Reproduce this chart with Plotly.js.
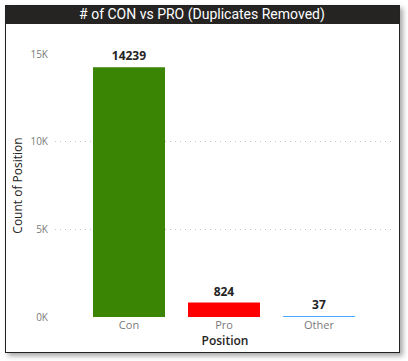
<!DOCTYPE html>
<html>
<head>
<meta charset="utf-8">
<script src="https://cdn.plot.ly/plotly-3.0.1.min.js"></script>
<style>
  html, body { margin: 0; padding: 0; background: #ffffff; width: 408px; height: 361px; overflow: hidden; }
  #frame { position: absolute; left: 5px; top: 5px; width: 393px; height: 346px; border: 1px solid #222; box-shadow: 3px 3px 5px rgba(0,0,0,0.35); background: #fff; }
  #bar { position: absolute; left: 6px; top: 6px; width: 393px; height: 18px; background: #252423; }
  #chart { position: absolute; left: 0; top: 0; width: 408px; height: 361px; }
</style>
</head>
<body>
<div id="frame"></div>
<div id="bar"></div>
<div id="chart"></div>
<script>
const categories = ["Con", "Pro", "Other"];
const counts = [14239, 824, 37];
const barColors = ["#3a8504", "#ff0000", "#118dff"];
const yTickVals = [0, 5000, 10000, 15000];
const yTickText = ["0K", "5K", "10K", "15K"];

const trace = {
  type: "bar",
  x: categories,
  y: counts,
  marker: { color: barColors },
  width: 0.758,
  text: counts.map(String),
  textposition: "outside",
  cliponaxis: false,
  textfont: { family: "Open Sans, sans-serif", size: 12, color: "#252423", weight: "bold" },
  hoverinfo: "none"
};

const layout = {
  width: 408,
  height: 361,
  margin: { l: 55, r: 13, t: 54, b: 44 },
  paper_bgcolor: "rgba(0,0,0,0)",
  plot_bgcolor: "rgba(0,0,0,0)",
  showlegend: false,
  bargap: 0.2,
  title: {
    text: "# of CON vs PRO (Duplicates Removed)",
    font: { family: "Roboto, sans-serif", size: 14, color: "#ffffff" },
    x: 0.495, xref: "container", xanchor: "center",
    y: 0.961, yref: "container", yanchor: "middle"
  },
  xaxis: {
    type: "category",
    range: [-0.779, 2.8],
    showgrid: false,
    showline: false,
    zeroline: false,
    ticks: "",
    tickfont: { family: "Open Sans, sans-serif", size: 11, color: "#7a7a7a" },
    title: { text: "Position", font: { family: "Open Sans, sans-serif", size: 12, color: "#252423", weight: 600 }, standoff: 4 }
  },
  yaxis: {
    range: [0, 15000],
    tickvals: yTickVals,
    ticktext: yTickText,
    showgrid: true,
    gridcolor: "#c4c4c4",
    griddash: "1px,4px",
    gridwidth: 1,
    zeroline: false,
    showline: false,
    ticks: "",
    ticklabelstandoff: 6,
    tickfont: { family: "Open Sans, sans-serif", size: 10, color: "#7a7a7a" },
    title: { text: "Count of Position", font: { family: "Open Sans, sans-serif", size: 12, color: "#252423", weight: 500 }, standoff: 5 }
  }
};

Plotly.newPlot("chart", [trace], layout, { displayModeBar: false, staticPlot: true });
</script>
</body>
</html>
